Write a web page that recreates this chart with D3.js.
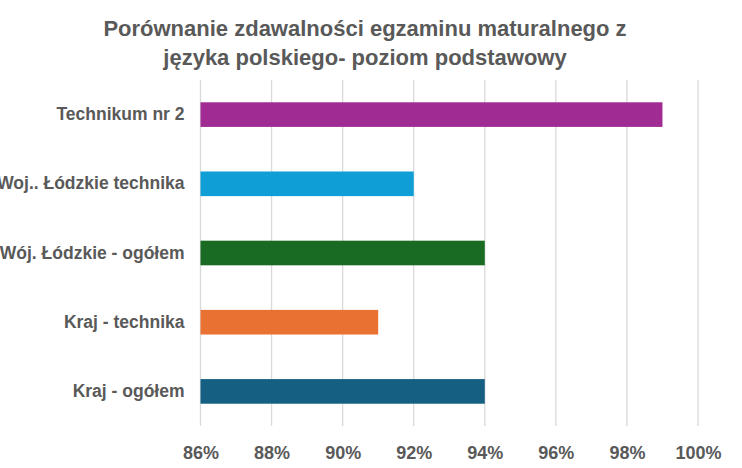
<!DOCTYPE html>
<html>
<head>
<meta charset="utf-8">
<script src="https://cdn.jsdelivr.net/npm/d3@7"></script>
<style>
  body { margin: 0; background: #fff; }
  svg { display: block; }
</style>
</head>
<body>
<div id="chart"></div>
<script>
// Chart data.
var categories = ["Technikum nr 2", "Woj.. Łódzkie technika", "Wój. Łódzkie - ogółem", "Kraj - technika", "Kraj - ogółem"];
var values = [99, 92, 94, 91, 94];
var colors = ["#A02B93", "#0F9ED5", "#196B24", "#E97132", "#156082"];
var tickValues = [86, 88, 90, 92, 94, 96, 98, 100];
var titleLines = ["Porównanie zdawalności egzaminu maturalnego z", "języka polskiego- poziom podstawowy"];

// Layout parameters.
var svgWidth = 742;
var svgHeight = 468;

var margin = { top: 80, right: 44, bottom: 42, left: 200.5 };
var width = svgWidth - margin.left - margin.right;
var height = svgHeight - margin.top - margin.bottom;

var textColor = "#595959";

var svg = d3.select("#chart")
  .append("svg")
  .attr("width", svgWidth)
  .attr("height", svgHeight);

// Title.
svg.append("text")
  .attr("x", 365)
  .attr("y", 36)
  .attr("text-anchor", "middle")
  .attr("font-family", "'Liberation Sans', Arial, sans-serif")
  .attr("font-weight", "bold")
  .attr("font-size", "22px")
  .attr("fill", textColor)
  .selectAll("tspan")
  .data(titleLines)
  .enter()
  .append("tspan")
  .attr("x", 365)
  .attr("dy", (d, i) => i === 0 ? 0 : 29)
  .text(d => d);

var chartGroup = svg.append("g")
  .attr("transform", `translate(${margin.left}, ${margin.top})`);

// Scales.
var xScale = d3.scaleLinear()
  .domain([86, 100])
  .range([0, width]);

var yScale = d3.scaleBand()
  .domain(categories)
  .range([0, height])
  .paddingInner(0.644)
  .paddingOuter(0.322);

// Gridlines.
chartGroup.append("g")
  .selectAll("line")
  .data(tickValues)
  .enter()
  .append("line")
  .attr("x1", d => xScale(d))
  .attr("x2", d => xScale(d))
  .attr("y1", 0)
  .attr("y2", height)
  .attr("stroke", "#d9d9d9")
  .attr("stroke-width", 1.3);

// Bars.
chartGroup.selectAll("rect")
  .data(categories)
  .enter()
  .append("rect")
  .attr("x", xScale(86))
  .attr("y", d => yScale(d))
  .attr("width", (d, i) => xScale(values[i]) - xScale(86))
  .attr("height", yScale.bandwidth())
  .attr("fill", (d, i) => colors[i]);

// Bottom axis, tick labels only.
var bottomAxis = d3.axisBottom(xScale)
  .tickValues(tickValues)
  .tickSize(0)
  .tickPadding(20)
  .tickFormat(d => d + "%");

var xAxis = chartGroup.append("g")
  .attr("transform", `translate(0, ${height})`)
  .call(bottomAxis);
xAxis.select(".domain").remove();
xAxis.selectAll("text")
  .attr("font-family", "'Liberation Sans', Arial, sans-serif")
  .attr("font-weight", "bold")
  .attr("font-size", "18px")
  .attr("fill", textColor);

// Left axis, category labels only.
var leftAxis = d3.axisLeft(yScale)
  .tickSize(0)
  .tickPadding(16);

var yAxis = chartGroup.append("g")
  .call(leftAxis);
yAxis.select(".domain").remove();
yAxis.selectAll("text")
  .attr("font-family", "'Liberation Sans', Arial, sans-serif")
  .attr("font-weight", "bold")
  .attr("font-size", "17.5px")
  .attr("fill", textColor);
</script>
</body>
</html>
